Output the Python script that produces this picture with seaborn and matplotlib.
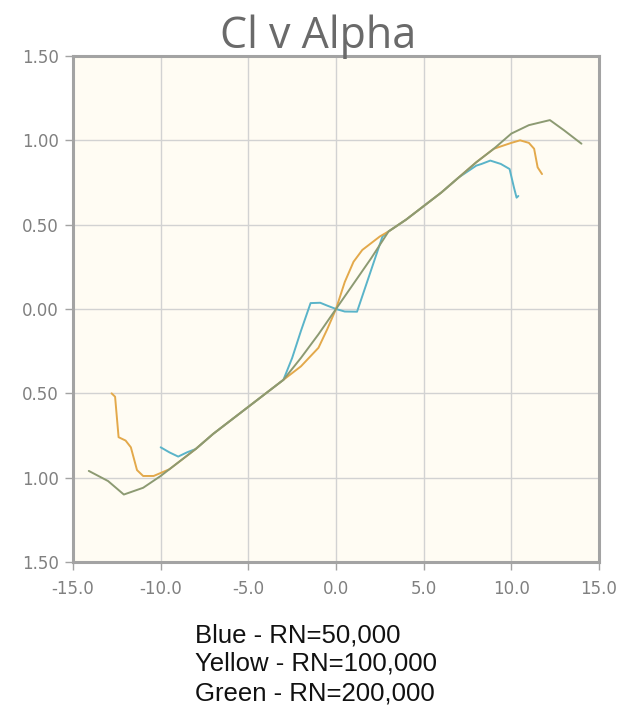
import matplotlib
matplotlib.use("Agg")
import matplotlib.pyplot as plt
import seaborn as sns
import pandas as pd

# ---- data ----
blue_alpha = [-10.0, -9.5, -9.0, -8.5, -8.0, -7.0, -6.0, -5.0, -4.0, -3.0, -2.5, -2.0,
              -1.45, -0.9, -0.5, 0.0, 0.5, 1.2, 2.0, 2.65, 3.0, 4.0, 5.0, 6.0, 7.0,
              8.0, 8.3, 8.8, 9.4, 9.9, 10.15, 10.3, 10.4]
blue_cl = [-0.82, -0.85, -0.875, -0.85, -0.83, -0.74, -0.66, -0.58, -0.50, -0.42, -0.29, -0.13,
           0.035, 0.037, 0.02, 0.0, -0.015, -0.016, 0.23, 0.43, 0.46, 0.53, 0.61, 0.69, 0.78,
           0.85, 0.86, 0.88, 0.86, 0.83, 0.72, 0.66, 0.67]

yellow_alpha = [-12.8, -12.6, -12.4, -12.0, -11.7, -11.35, -11.0, -10.4, -9.5, -9.0, -8.0,
                -7.0, -6.0, -5.0, -4.0, -3.0, -2.0, -1.0, -0.5, 0.0, 0.5, 1.0, 1.5, 2.0,
                2.5, 3.0, 4.0, 5.0, 6.0, 7.0, 8.0, 9.0, 10.0, 10.5, 11.0, 11.3, 11.5, 11.75]
yellow_cl = [-0.50, -0.52, -0.76, -0.78, -0.82, -0.955, -0.99, -0.99, -0.95, -0.91, -0.83,
             -0.74, -0.66, -0.58, -0.50, -0.42, -0.34, -0.23, -0.12, 0.0, 0.16, 0.28, 0.35, 0.39,
             0.43, 0.46, 0.53, 0.61, 0.69, 0.78, 0.87, 0.95, 0.985, 1.00, 0.985, 0.95, 0.84, 0.80]

green_alpha = [-14.1, -13.0, -12.1, -11.0, -10.0, -9.0, -8.0, -7.0, -6.0, -5.0, -4.0, -3.0,
               -2.0, -1.0, 0.0, 1.0, 2.0, 3.0, 4.0, 5.0, 6.0, 7.0, 8.0, 9.0, 10.0, 11.0,
               12.2, 13.0, 14.0]
green_cl = [-0.96, -1.02, -1.10, -1.06, -0.99, -0.91, -0.83, -0.74, -0.66, -0.58, -0.50, -0.42,
            -0.29, -0.15, 0.0, 0.15, 0.30, 0.46, 0.53, 0.61, 0.69, 0.78, 0.87, 0.95, 1.04, 1.09,
            1.12, 1.06, 0.98]

series_names = ["RN=50,000", "RN=100,000", "RN=200,000"]
series_colors = ["#5ab4c9", "#e3a94b", "#8c9a72"]

x_ticks = [-15, -10, -5, 0, 5, 10, 15]
x_tick_labels = ["-15.0", "-10.0", "-5.0", "0.0", "5.0", "10.0", "15.0"]
y_ticks = [1.5, 1.0, 0.5, 0.0, -0.5, -1.0, -1.5]
y_tick_labels = ["1.50", "1.00", "0.50", "0.00", "0.50", "1.00", "1.50"]

title_text = "Cl v Alpha"
legend_lines = ["Blue - RN=50,000", "Yellow - RN=100,000", "Green - RN=200,000"]

# ---- build frame ----
frames = []
for name, a, c in zip(series_names, [blue_alpha, yellow_alpha, green_alpha],
                      [blue_cl, yellow_cl, green_cl]):
    frames.append(pd.DataFrame({"alpha": a, "cl": c, "series": name}))
df = pd.concat(frames, ignore_index=True)

sns.set_style("white")
W, H = 618, 709
fig = plt.figure(figsize=(W / 100, H / 100), dpi=100)
ax = fig.add_axes([73 / W, 1 - 562 / H, (599 - 73) / W, (562 - 56) / H])
ax.set_facecolor("#fffcf3")

sns.lineplot(data=df, x="alpha", y="cl", hue="series", hue_order=series_names,
             palette=dict(zip(series_names, series_colors)), sort=False,
             estimator=None, units="series", linewidth=1.4, legend=False, ax=ax)

ax.set_xlim(-15, 15)
ax.set_ylim(-1.5, 1.5)
ax.set_xticks(x_ticks)
ax.set_xticklabels(x_tick_labels)
ax.set_yticks(y_ticks)
ax.set_yticklabels(y_tick_labels)
ax.set_xlabel("")
ax.set_ylabel("")
ax.grid(True, color="#d2d2d2", linewidth=1.0)
ax.set_axisbelow(True)
for s in ax.spines.values():
    s.set_color("#a3a3a3")
    s.set_linewidth(2.2)
ax.tick_params(axis="both", which="major", length=6, width=1.0, color="#a3a3a3",
               labelcolor="#808080", labelsize=12, direction="out")
ax.tick_params(axis="x", pad=7)
ax.tick_params(axis="y", pad=4)
for lab in ax.get_xticklabels() + ax.get_yticklabels():
    lab.set_fontfamily("DejaVu Sans")
ax.tick_params(bottom=True, left=True)

fig.text(318 / W, 1 - 48 / H, title_text, ha="center", va="baseline",
         fontsize=31, color="#6a6a6a", family=["Open Sans", "DejaVu Sans"])

for txt, yb in zip(legend_lines, [642, 671, 701]):
    fig.text(195 / W, 1 - yb / H, txt, ha="left", va="baseline",
             fontsize=18.5, color="#111111", family=["Liberation Sans", "DejaVu Sans"])

fig.savefig("out.png", dpi=100)
